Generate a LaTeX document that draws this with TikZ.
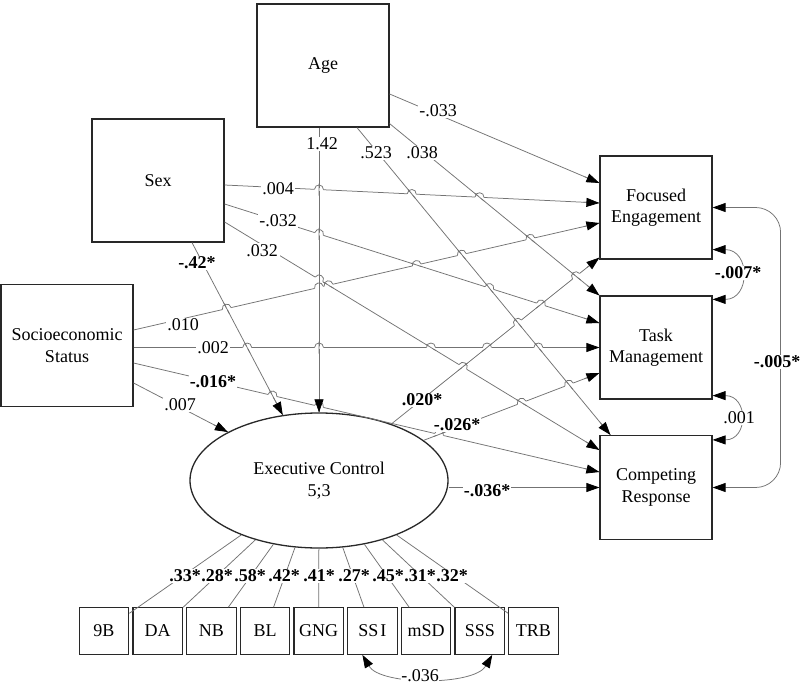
\documentclass[tikz,border=0pt]{standalone}
\usepackage{fontspec}
\setmainfont{Liberation Serif}
\usetikzlibrary{arrows.meta,calc,shapes.geometric}
\definecolor{boxc}{RGB}{40,40,40}
\definecolor{linec}{RGB}{115,115,115}
\tikzset{
 obs/.style={draw=boxc, line width=1.2pt, fill=white, inner sep=0pt, align=center},
 bigbox/.style={obs, minimum width=132pt, minimum height=123pt},
 outbox/.style={obs, minimum width=112pt, minimum height=103pt},
 indbox/.style={obs, minimum width=49.5pt, minimum height=46.5pt},
 conn/.style={draw=linec, line width=0.75pt},
 tiparrow/.style={conn, -{Triangle[length=13pt,width=9pt,color=black]}},
 dbl/.style={conn, {Triangle[length=13pt,width=9pt,color=black]}-{Triangle[length=13pt,width=9pt,color=black]}},
 lab/.style={fill=white, inner sep=1pt},
 blab/.style={lab, font=\fontsize{18}{21.5}\selectfont\bfseries},
}
\newcommand\hopover[4]{%
  \coordinate (hx) at (intersection of #1--#2 and #3--#4);
  \draw[white, line width=2.6pt] ($(hx)!4.5pt!(#1)$) -- ($(hx)!4.5pt!(#2)$);
  \draw[conn] ($(hx)!6pt!(#3)$) -- ($(hx)!6pt!(#4)$);
  \draw[conn] ($(hx)!4.5pt!(#1)$) to[bend left=90, looseness=1.7] ($(hx)!4.5pt!(#2)$);
}
\newcommand\tipat[2]{\draw[tiparrow] ($(#2)!16pt!(#1)$) -- (#2);}
\begin{document}
\begin{tikzpicture}[x=1pt,y=-1pt, font=\fontsize{18}{21.5}\selectfont]
\useasboundingbox (0,0) rectangle (800,685);
\fill[white] (0,0) rectangle (800,685);
% nodes
\node[bigbox] (age) at (323,65.5) {Age};
\node[bigbox] (sex) at (158,180.5) {Sex};
\node[bigbox, minimum height=122pt] (ses) at (67,345.7) {Socioeconomic\\Status};
\node[outbox] (fe) at (656,207.5) {Focused\\Engagement};
\node[outbox] (tm) at (656,347.5) {Task\\Management};
\node[outbox, minimum height=104pt] (cr) at (656,487.5) {Competing\\Response};
\node[ellipse, draw=boxc, line width=1.3pt, fill=white, inner sep=0pt, minimum width=258pt, minimum height=135pt, align=center] (ec) at (319,480.5) {Executive Control\\5;3};
\foreach \n/\t [count=\i from 0] in {9B/9B, DA/DA, NB/NB, BL/BL, GNG/GNG, SSI/SS\kern2pt I, mSD/mSD, SSS/SSS, TRB/TRB} {
  \node[indbox] (b\n) at (104+53.68*\i, 631) {\t};
}
% connector end points
\coordinate (s1) at ($(age.east)+(0,28.5)$);
\coordinate (e1) at ($(fe.west)+(0,-24.5)$);
\coordinate (s2) at (ec.north |- age.south);
\coordinate (e2) at (ec.north);
\coordinate (s3) at ($(age.south)+(34,0)$);
\coordinate (e3) at ($(cr.north west)+(11,0)$);
\coordinate (s4) at ($(age.south east)+(0,-4)$);
\coordinate (e4) at (tm.north west);
\coordinate (s5) at ($(sex.east)+(0,4.5)$);
\coordinate (e5) at ($(fe.west)+(0,-4.5)$);
\coordinate (s6) at ($(sex.east)+(0,23.5)$);
\coordinate (e6) at ($(tm.west)+(0,-24.5)$);
\coordinate (s7) at ($(sex.east)+(0,41.5)$);
\coordinate (e7) at ($(cr.west)+(0,-37.5)$);
\coordinate (s8) at ($(sex.south)+(34,0)$);
\coordinate (e8) at (ec.119);
\coordinate (s9) at ($(ses.east)+(0,-15.7)$);
\coordinate (e9) at ($(fe.west)+(0,15.5)$);
\coordinate (s10) at (ses.east |- tm.west);
\coordinate (e10) at (tm.west);
\coordinate (s11) at ($(ses.east)+(0,17.3)$);
\coordinate (e11) at ($(cr.west)+(0,-15.5)$);
\coordinate (s12) at ($(ses.east)+(0,37.3)$);
\coordinate (e12) at (ec.152);
\coordinate (s13) at (ec.38);
\coordinate (e13) at ($(fe.south west)+(0,-2)$);
\coordinate (s14) at (ec.21);
\coordinate (e14) at ($(tm.west)+(0,25.5)$);
\coordinate (s15) at (ec.east |- cr.west);
\coordinate (e15) at (cr.west);
% lines
\foreach \k in {1,...,15} {\draw[conn] (s\k) -- (e\k);}
\foreach \n in {9B,DA,NB,BL,GNG,SSI,mSD,SSS,TRB} {\draw[conn] (ec) -- (b\n);}
% hops
\hopover{s13}{e13}{s3}{e3}
\hopover{s13}{e13}{s4}{e4}
\hopover{s14}{e14}{s3}{e3}
\hopover{s14}{e14}{s7}{e7}
\hopover{s5}{e5}{s2}{e2}
\hopover{s5}{e5}{s3}{e3}
\hopover{s5}{e5}{s4}{e4}
\hopover{s6}{e6}{s2}{e2}
\hopover{s6}{e6}{s3}{e3}
\hopover{s6}{e6}{s13}{e13}
\hopover{s9}{e9}{s7}{e7}
\hopover{s7}{e7}{s2}{e2}
\hopover{s7}{e7}{s13}{e13}
\hopover{s9}{e9}{s2}{e2}
\hopover{s9}{e9}{s3}{e3}
\hopover{s9}{e9}{s4}{e4}
\hopover{s9}{e9}{s6}{e6}
\hopover{s9}{e9}{s8}{e8}
\hopover{s10}{e10}{s2}{e2}
\hopover{s10}{e10}{s3}{e3}
\hopover{s10}{e10}{s7}{e7}
\hopover{s10}{e10}{s8}{e8}
\hopover{s10}{e10}{s13}{e13}
\hopover{s11}{e11}{s2}{e2}
\hopover{s11}{e11}{s8}{e8}
\hopover{s11}{e11}{s14}{e14}
% arrow tips
\foreach \k in {1,...,15} {\tipat{s\k}{e\k}}
% covariances
\coordinate (c1) at ($(fe.south east)+(0,-10)$);
\coordinate (c2) at ($(tm.north east)+(0,4)$);
\draw[dbl] (c1) .. controls +(38,0) and +(38,0) .. (c2);
\coordinate (c3) at ($(tm.south east)+(0,-4)$);
\coordinate (c4) at ($(cr.north east)+(0,5)$);
\draw[dbl] (c3) .. controls +(36,0) and +(36,0) .. (c4);
\coordinate (c5) at ($(fe.east)+(68,0)$);
\coordinate (c6) at ($(cr.east)+(68,0)$);
\draw[dbl, rounded corners=25pt] (fe.east) -- (c5) -- (c6) -- (cr.east);
\coordinate (c7) at ($(bSSI.south)+(-10,0)$);
\coordinate (c8) at ($(bSSS.south)+(12.5,0)$);
\draw[dbl] (c7) .. controls +(18,31) and +(-18,31) .. (c8);
% labels
\node[lab] at (438,111) {-.033};
\node[lab] at (322,144) {1.42};
\node[lab] at (376,153) {.523};
\node[lab] at (422,153) {.038};
\node[lab] at (278,189) {.004};
\node[lab] at (278,221) {-.032};
\node[lab, inner sep=2pt] at (262,251) {.032};
\node[blab] at (197,263) {-.42*};
\node[lab] at (183,325) {.010};
\node[lab] at (213,348) {.002};
\node[blab] at (213,382) {-.016*};
\node[lab] at (180,405) {.007};
\node[blab] at (422,400) {.020*};
\node[blab] at (457,425) {-.026*};
\node[blab] at (487,491) {-.036*};
\node[blab] at (738,273) {-.007*};
\node[lab] at (739,418) {.001};
\node[blab] at (777,362) {-.005*};
\node[lab, inner sep=0.5pt] at (420,676) {-.036};
\foreach \x/\t in {185/.33*, 217/.28*, 250/.58*, 284/.42*, 319/.41*, 354/.27*, 388/.45*, 420/.31*, 452/.32*} {\node[blab, inner sep=0.5pt] at (\x,576) {\t};}
\end{tikzpicture}
\end{document}
